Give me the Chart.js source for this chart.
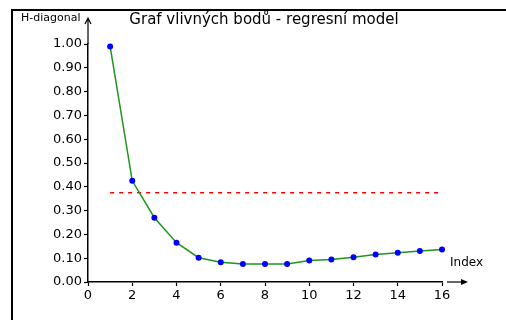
<!DOCTYPE html>
<html>
<head>
<meta charset="utf-8">
<script src="https://cdn.jsdelivr.net/npm/chart.js@4/dist/chart.umd.min.js"></script>
<style>
  body { margin: 0; background: #fff; }
  #wrap { width: 506px; height: 320px; }
</style>
</head>
<body>
<div id="wrap"><canvas id="hChart" width="506" height="320"></canvas></div>
<script>
// leverage (hat matrix diagonal) for each observation
const obsIndex = [1, 2, 3, 4, 5, 6, 7, 8, 9, 10, 11, 12, 13, 14, 15, 16];
const hDiag = [0.99, 0.425, 0.27, 0.165, 0.102, 0.083, 0.076, 0.076, 0.076, 0.09, 0.095, 0.104, 0.116, 0.123, 0.13, 0.137];
// limit 2p/n
const limitX = [1, 16];
const limitY = [0.375, 0.375];
const xTicks = [0, 2, 4, 6, 8, 10, 12, 14, 16];
const yTicks = [0, 0.1, 0.2, 0.3, 0.4, 0.5, 0.6, 0.7, 0.8, 0.9, 1.0];

const titleText = 'Graf vlivných bodů - regresní model';
const yName = 'H-diagonal';
const xName = 'Index';
const font = '"DejaVu Sans", Verdana, sans-serif';

// frame, axis arrows and captions
const decorations = {
  id: 'decorations',
  afterDraw(chart) {
    const c = chart.ctx;
    const x = chart.scales.x;
    const y = chart.scales.y;
    const ax = x.getPixelForValue(0);
    const ay = y.getPixelForValue(0);
    const top = y.getPixelForValue(1);
    const right = x.getPixelForValue(16);
    c.save();
    c.strokeStyle = '#000';
    c.fillStyle = '#000';

    c.lineWidth = 2;
    c.strokeRect(12, 10, 600, 400);

    // y arrow
    c.lineWidth = 1.2;
    c.beginPath();
    c.moveTo(ax, top);
    c.lineTo(ax, 18);
    c.moveTo(ax - 3, 24);
    c.lineTo(ax, 18);
    c.lineTo(ax + 3, 24);
    c.stroke();

    // x arrow
    c.beginPath();
    c.moveTo(right + 5, ay);
    c.lineTo(right + 21, ay);
    c.stroke();
    c.beginPath();
    c.moveTo(right + 26, ay);
    c.lineTo(right + 19, ay - 3);
    c.lineTo(right + 19, ay + 3);
    c.closePath();
    c.fill();

    c.textBaseline = 'middle';
    c.font = '15px ' + font;
    c.textAlign = 'center';
    c.fillText(titleText, 264, 20);
    c.textAlign = 'left';
    c.font = '12px ' + font;
    c.fillText(xName, right + 8, ay - 19);
    c.font = '11px ' + font;
    c.fillText(yName, 21, 18);
    c.restore();
  }
};

const ctx = document.getElementById('hChart').getContext('2d');
const hChart = new Chart(ctx, {
  type: 'scatter',
  data: {
    datasets: [{
      data: obsIndex.map((v, i) => ({ x: v, y: hDiag[i] })),
      showLine: true,
      clip: false,
      borderColor: 'rgb(30,150,30)',
      borderWidth: 1.5,
      pointRadius: 3,
      pointBorderWidth: 0,
      pointBackgroundColor: '#0000ff',
      order: 1
    }, {
      data: limitX.map((v, i) => ({ x: v, y: limitY[i] })),
      showLine: true,
      borderColor: '#ff0000',
      borderWidth: 1.5,
      borderDash: [4, 5],
      pointRadius: 0,
      order: 2
    }]
  },
  options: {
    responsive: false,
    animation: false,
    devicePixelRatio: 1,
    layout: { padding: { left: 0, top: 44, right: 64, bottom: 0 } },
    plugins: {
      legend: { display: false },
      tooltip: { enabled: false }
    },
    scales: {
      x: {
        type: 'linear',
        min: 0,
        max: 16,
        afterBuildTicks: (s) => { s.ticks = xTicks.map(v => ({ value: v })); },
        afterFit: (s) => { s.height = 38; },
        border: { color: '#000', width: 1.5 },
        grid: { drawOnChartArea: false, tickLength: 4, color: '#000', tickWidth: 1.2 },
        ticks: { color: '#000', padding: 2, font: { family: font, size: 13 } }
      },
      y: {
        min: 0,
        max: 1,
        afterBuildTicks: (s) => { s.ticks = yTicks.map(v => ({ value: v })); },
        afterFit: (s) => { s.width = 88; },
        border: { color: '#000', width: 1.5 },
        grid: { drawOnChartArea: false, tickLength: 4, color: '#000', tickWidth: 1.2 },
        ticks: { color: '#000', padding: 2, font: { family: font, size: 13 }, callback: (v) => v.toFixed(2) }
      }
    }
  },
  plugins: [decorations]
});
</script>
</body>
</html>
